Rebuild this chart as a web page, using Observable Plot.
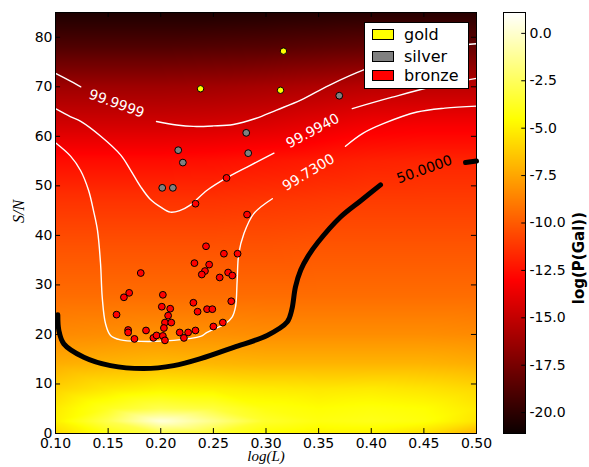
<!DOCTYPE html>
<html>
<head>
<meta charset="utf-8">
<script src="https://cdn.jsdelivr.net/npm/d3@7"></script>
<script src="https://cdn.jsdelivr.net/npm/@observablehq/plot@0.6"></script>
<style>
  body { margin: 0; background: white; }
  #wrap { position: relative; width: 589px; height: 467px; overflow: hidden; font-family: "DejaVu Sans", sans-serif; }
  #main, #cbar { position: absolute; top: 0; }
  #main { left: 0; }
  #cbar { left: 500px; }
  .legend { position: absolute; left: 364px; top: 22px; width: 103px; height: 65px; background: white; border: 1px solid black; }
  .lg-item { position: absolute; left: 7px; height: 16px; display: flex; align-items: center; font-size: 16px; color: black; }
  .lg-swatch { width: 20px; height: 9px; border: 1px solid black; margin-right: 10px; }
</style>
</head>
<body>
<div id="wrap">
  <div id="main"></div>
  <div id="cbar"></div>
  <div class="legend" id="legend"></div>
</div>
<script>
// ---------- data ----------
const xTicks = [0.10, 0.15, 0.20, 0.25, 0.30, 0.35, 0.40, 0.45, 0.50];
const yTicks = [0, 10, 20, 30, 40, 50, 60, 70, 80];
const cbTicks = [0.0, -2.5, -5.0, -7.5, -10.0, -12.5, -15.0, -17.5, -20.0];

// background log(P(Gal)) field sampled on a coarse grid
const gridX = [0.10, 0.15, 0.20, 0.25, 0.30, 0.35, 0.40, 0.45, 0.50];
const gridY = [85, 78, 70, 62, 55, 47, 38, 28, 20, 14, 9, 5, 2.5, 0];
const gridLogP = [
  [-20.5, -20.5, -20.5, -20.5, -20.4, -20.3, -20.2, -20.2, -20.2],
  [-18.8, -18.8, -18.8, -18.7, -18.6, -18.4, -18.2, -18.1, -18.1],
  [-16.2, -16.2, -16.2, -16.1, -15.9, -15.6, -15.3, -15.2, -15.2],
  [-14.4, -14.4, -14.4, -14.3, -14.1, -13.7, -13.3, -13.2, -13.2],
  [-12.6, -12.6, -12.6, -12.5, -12.3, -12.1, -11.9, -11.8, -11.8],
  [-11.3, -11.3, -11.3, -11.3, -11.2, -11.1, -11.0, -11.0, -11.0],
  [-10.3, -10.3, -10.3, -10.3, -10.3, -10.2, -10.2, -10.2, -10.2],
  [-9.4, -9.4, -9.4, -9.4, -9.4, -9.4, -9.4, -9.4, -9.4],
  [-8.4, -8.3, -8.2, -8.2, -8.3, -8.3, -8.3, -8.3, -8.4],
  [-7.2, -7.0, -6.8, -6.9, -7.0, -7.0, -7.0, -7.0, -7.2],
  [-6.0, -5.3, -4.9, -5.0, -5.2, -5.3, -5.2, -5.4, -5.8],
  [-5.2, -3.8, -2.8, -3.2, -4.2, -4.5, -4.3, -4.5, -5.2],
  [-5.0, -2.8, 0.3, -1.5, -3.6, -4.2, -4.0, -4.3, -5.4],
  [-5.8, -4.2, -3.0, -3.5, -4.6, -5.0, -5.0, -5.6, -7.0]
];

// contour lines [logL, S/N]
const c999999a = [[0.100, 72.7], [0.112, 71.4], [0.124, 70.0]];
const c999999b = [[0.196, 63.0], [0.215, 62.3], [0.231, 62.0], [0.250, 62.1], [0.269, 62.4], [0.290, 63.6], [0.310, 65.3], [0.333, 67.3], [0.360, 70.3], [0.394, 73.5], [0.430, 76.0], [0.470, 78.0], [0.500, 78.7]];
const c999940a = [[0.100, 65.6], [0.114, 64.0], [0.124, 63.0], [0.143, 60.0], [0.162, 56.2], [0.171, 53.3], [0.181, 49.8], [0.190, 47.3], [0.200, 45.7], [0.209, 44.7], [0.218, 45.0], [0.228, 46.1], [0.244, 49.1], [0.2625, 51.6], [0.282, 53.8], [0.3075, 56.6]];
const c999940b = [[0.382, 65.6], [0.420, 67.9], [0.460, 70.1], [0.500, 71.7]];
const c997300a = [[0.100, 58.7], [0.1143, 56.0], [0.1238, 53.1], [0.1314, 49.1], [0.1361, 45.0], [0.1399, 41.0], [0.1428, 34.3], [0.1444, 27.5], [0.1475, 22.2], [0.1523, 19.8], [0.1618, 18.9], [0.181, 18.6], [0.2124, 18.8], [0.2378, 19.6], [0.2440, 20.4], [0.2615, 22.2], [0.2678, 23.5], [0.2710, 25.5], [0.2726, 30.9], [0.2741, 36.3], [0.2789, 40.3], [0.2884, 44.4], [0.306, 47.4]];
const c997300b = [[0.3755, 58.0], [0.392, 60.6], [0.412, 62.6], [0.4435, 64.9], [0.470, 65.7], [0.500, 66.1]];
const c500000a = [[0.1022, 24.0], [0.1032, 20.8], [0.1079, 18.1], [0.1269, 15.4], [0.1523, 13.7], [0.1839, 13.1], [0.2124, 13.7], [0.2378, 15.1], [0.2694, 17.4], [0.3011, 19.8], [0.3201, 22.5], [0.3245, 25.0], [0.3280, 29.6], [0.3330, 33.0], [0.3400, 35.8], [0.3490, 38.5], [0.3708, 43.7], [0.3900, 47.0], [0.4088, 50.2]];
const c500000b = [[0.4896, 54.7], [0.500, 55.0]];

const contourLabelText = ["99.9999", "99.9940", "99.7300"];
const contourLabelX = [0.158, 0.3444, 0.3404];
const contourLabelY = [66.6, 61.1, 52.7];
const contourLabelAngle = [20, -28, -31];
const medianLabelText = ["50.0000"];
const medianLabelX = [0.4506];
const medianLabelY = [53.3];
const medianLabelAngle = [-20];

// galaxies [logL, S/N]
const gold = [[0.2378, 69.6], [0.3166, 77.2], [0.3138, 69.3]];
const silver = [[0.2812, 60.7], [0.2831, 56.6], [0.2166, 57.2], [0.2210, 54.7], [0.2014, 49.6], [0.2115, 49.6], [0.3696, 68.2]];
const bronze = [
  [0.233, 46.4], [0.2625, 51.6], [0.282, 44.2], [0.243, 37.8], [0.260, 36.3], [0.273, 36.3],
  [0.232, 34.4], [0.246, 34.1], [0.242, 32.8], [0.239, 32.1], [0.181, 32.4], [0.256, 31.5],
  [0.264, 32.5], [0.268, 31.9], [0.202, 28.0], [0.201, 25.6], [0.209, 25.2], [0.231, 26.4],
  [0.244, 25.1], [0.249, 25.1], [0.235, 24.6], [0.267, 26.7], [0.207, 23.8], [0.204, 22.4],
  [0.210, 22.4], [0.203, 21.3], [0.250, 21.6], [0.259, 22.4], [0.186, 20.8], [0.218, 20.4],
  [0.226, 20.4], [0.233, 20.8], [0.222, 19.3], [0.158, 24.0], [0.165, 27.5], [0.170, 28.4],
  [0.169, 20.9], [0.169, 20.4], [0.175, 19.1], [0.193, 19.3], [0.196, 19.8], [0.202, 19.7],
  [0.204, 18.8]
];

const legendNames = ["gold", "silver", "bronze"];
const legendColors = ["#ffff00", "#808080", "#ff0000"];

// ---------- build ----------
const grid = gridY.flatMap((y, i) => gridX.map((x, j) => ({x, y, v: gridLogP[i][j]})));
const contourLabels = contourLabelText.map((t, i) => ({t, x: contourLabelX[i], y: contourLabelY[i], r: contourLabelAngle[i]}));
const medianLabels = medianLabelText.map((t, i) => ({t, x: medianLabelX[i], y: medianLabelY[i], r: medianLabelAngle[i]}));

const colorScale = {
  type: "linear",
  domain: [-21.1, -12.997, -4.538, 1.1],
  range: ["#0b0000", "#ff0000", "#ffff00", "#ffffff"],
  interpolate: "rgb",
  clamp: true
};

const px = d => d[0], py = d => d[1];
const whiteLine = data => Plot.line(data, {x: px, y: py, stroke: "white", strokeWidth: 1.4, curve: "catmull-rom"});
const blackLine = data => Plot.line(data, {x: px, y: py, stroke: "black", strokeWidth: 5, curve: "catmull-rom"});

const main = Plot.plot({
  width: 500, height: 467,
  marginLeft: 55, marginRight: 24, marginTop: 12, marginBottom: 34,
  style: {fontFamily: "DejaVu Sans", fontSize: "14px", background: "transparent", color: "black"},
  x: {domain: [0.1, 0.5]},
  y: {domain: [0, 85]},
  color: colorScale,
  marks: [
    Plot.raster(grid, {x: "x", y: "y", fill: "v", interpolate: "barycentric", x1: 0.1, x2: 0.5, y1: 0, y2: 85}),
    whiteLine(c999999a), whiteLine(c999999b),
    whiteLine(c999940a), whiteLine(c999940b),
    whiteLine(c997300a), whiteLine(c997300b),
    blackLine(c500000a), blackLine(c500000b),
    Plot.text(contourLabels, {x: "x", y: "y", text: "t", rotate: "r", fill: "white", fontSize: 14}),
    Plot.text(medianLabels, {x: "x", y: "y", text: "t", rotate: "r", fill: "black", fontSize: 14}),
    Plot.dot(bronze, {x: px, y: py, r: 3.4, fill: "#ff0000", stroke: "black", strokeWidth: 1}),
    Plot.dot(silver, {x: px, y: py, r: 3.4, fill: "#808080", stroke: "black", strokeWidth: 1}),
    Plot.dot(gold, {x: px, y: py, r: 3.2, fill: "#ffff00", stroke: "black", strokeWidth: 1}),
    Plot.ruleX(xTicks, {y1: 0, y2: 1.0, stroke: "black"}),
    Plot.ruleX(xTicks, {y1: 85, y2: 84, stroke: "black"}),
    Plot.ruleY(yTicks, {x1: 0.1, x2: 0.1048, stroke: "black"}),
    Plot.ruleY(yTicks, {x1: 0.5, x2: 0.4952, stroke: "black"}),
    Plot.frame({stroke: "black"}),
    Plot.axisX({ticks: xTicks, tickSize: 0, tickPadding: 5, tickFormat: d => d.toFixed(2), label: null, fontSize: 14}),
    Plot.axisY({ticks: yTicks, tickSize: 0, tickPadding: 3, tickFormat: d => String(d), label: null, fontSize: 14}),
    Plot.text(["log(L)"], {frameAnchor: "bottom", dy: 27, fontFamily: "Liberation Serif", fontStyle: "italic", fontSize: 15}),
    Plot.text(["S/N"], {frameAnchor: "left", dx: -37, rotate: -90, fontFamily: "Liberation Serif", fontStyle: "italic", fontSize: 16})
  ]
});
document.getElementById("main").appendChild(main);

const cbar = Plot.plot({
  width: 89, height: 467,
  marginLeft: 3, marginRight: 64, marginTop: 12, marginBottom: 34,
  style: {fontFamily: "DejaVu Sans", fontSize: "14px", background: "transparent", color: "black"},
  x: {domain: [0, 1], axis: null},
  y: {domain: [-21.1, 1.1]},
  color: colorScale,
  marks: [
    Plot.raster({fill: (x, y) => y, x1: 0, x2: 1, y1: -21.1, y2: 1.1}),
    Plot.ruleY(cbTicks, {x1: 1, x2: 0.83, stroke: "black"}),
    Plot.frame({stroke: "black"}),
    Plot.axisY({anchor: "right", ticks: cbTicks, tickSize: 0, tickPadding: 4, tickFormat: d => d.toFixed(1), label: null, fontSize: 14}),
    Plot.text(["log(P(Gal))"], {frameAnchor: "right", dx: 54, dy: -11, rotate: -90, fontSize: 15, fontWeight: "bold"})
  ]
});
document.getElementById("cbar").appendChild(cbar);

// legend
const legendTops = [26, 48, 67];
const lg = document.getElementById("legend");
legendNames.forEach((name, i) => {
  const item = document.createElement("div");
  item.className = "lg-item";
  item.style.top = (legendTops[i] - 22 - 1) + "px";
  const sw = document.createElement("div");
  sw.className = "lg-swatch";
  sw.style.background = legendColors[i];
  item.appendChild(sw);
  const tx = document.createElement("span");
  tx.textContent = name;
  item.appendChild(tx);
  lg.appendChild(item);
});
</script>
</body>
</html>
